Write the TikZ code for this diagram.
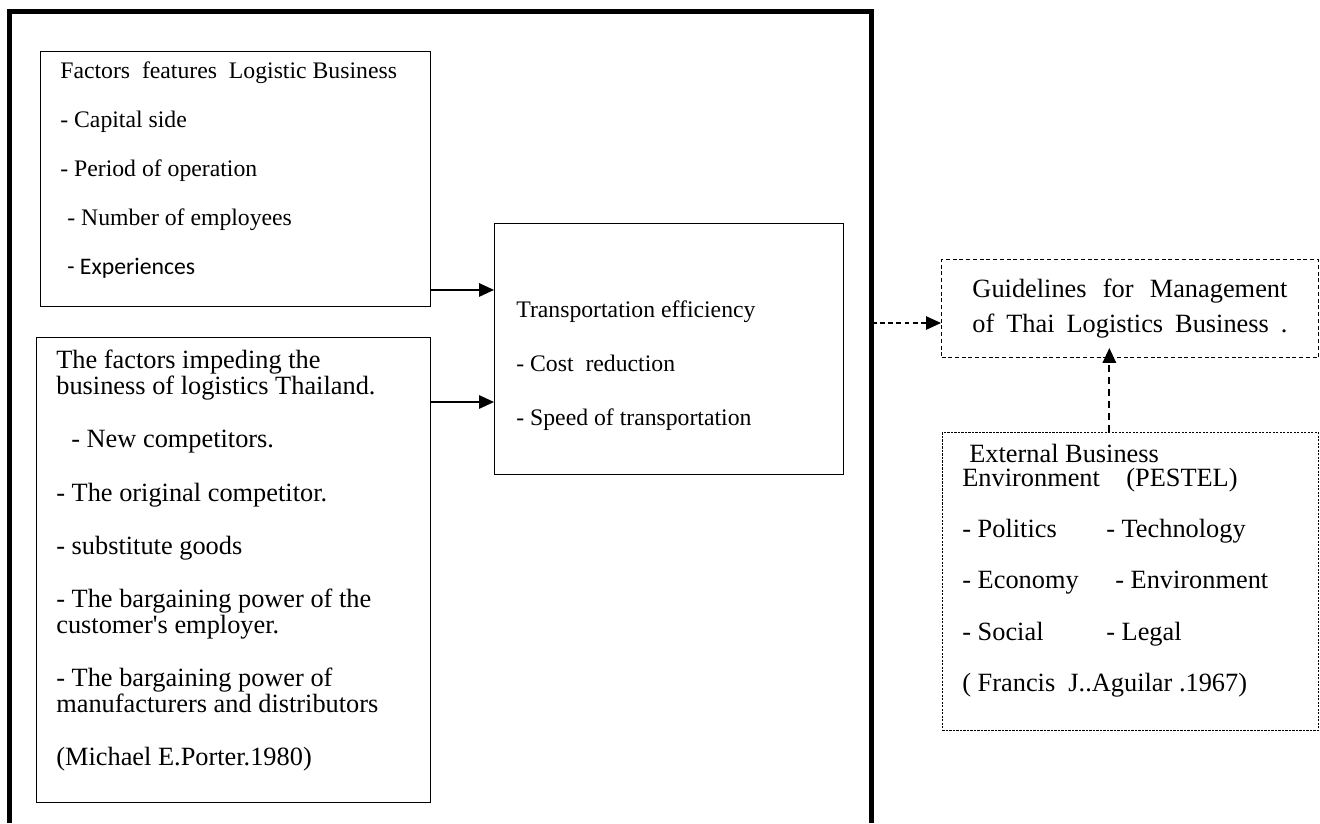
\documentclass[tikz,border=0pt]{standalone}
\usepackage{fontspec}
\setmainfont{Liberation Serif}
\newfontfamily\calibrifont{Carlito}
\usetikzlibrary{arrows.meta, positioning}
\tikzset{
	panel/.style={rectangle, draw=black, line width=0.02cm, anchor=north west, inner sep=0pt},
	dashpanel/.style={panel, dash pattern=on 0.08cm off 0.055cm},
	dotpanel/.style={panel, line width=0.016cm, dash pattern=on 0.045cm off 0.025cm},
	paneltext/.style={anchor=north west, inner sep=0pt, align=left},
	arrow/.style={-{Triangle[length=0.3cm, width=0.27cm]}, line width=0.03cm},
	dasharrow/.style={-{Triangle[length=0.3cm, width=0.27cm]}, line width=0.024cm, dash pattern=on 0.1cm off 0.065cm},
	longdasharrow/.style={-{Triangle[length=0.3cm, width=0.27cm]}, line width=0.035cm, dash pattern=on 0.14cm off 0.1cm},
}
\begin{document}
\begin{tikzpicture}[x=0.02cm, y=-0.02cm]
	\useasboundingbox (0,0) rectangle (1320,823);
	\draw[line width=0.1cm] (9.5,823) -- (9.5,11.5) -- (871.5,11.5) -- (871.5,823);
	\coordinate (frameR) at (871.5,323);
	\node[panel, minimum width=7.8cm, minimum height=5.1cm] (feat) at (40,51) {};
	\node[paneltext, font=\fontsize{13.5}{27.9}\selectfont, below right=0.216cm and 0.4cm of feat.north west] (feattext) {Factors\ \ features\ \ Logistic Business\\- Capital side\\- Period of operation\\\hspace*{0.14cm}- Number of employees\\\hspace*{0.14cm}{\calibrifont - Experiences}};
	\node[panel, minimum width=7.88cm, minimum height=9.3cm] (imped) at (36,337) {};
	\node[paneltext, font=\fontsize{15}{14.8}\selectfont, below right=0.26cm and 0.4cm of imped.north west] (impedtext) {The factors impeding the\\business of logistics Thailand.\\[15.4pt]
		\hspace*{0.3cm}- New competitors.\\[15.4pt]
		- The original competitor.\\[15.4pt]
		- substitute goods\\[15.4pt]
		- The bargaining power of the\\customer\textquotesingle s employer.\\[15.4pt]
		- The bargaining power of\\manufacturers and distributors\\[15.4pt]
		(Michael E.Porter.1980)};
	\node[panel, minimum width=6.98cm, minimum height=5.02cm] (trans) at (494,223) {};
	\node[paneltext, font=\fontsize{13.5}{30.7}\selectfont, below right=1.55cm and 0.44cm of trans.north west] (transtext) {Transportation efficiency\\- Cost\ \ reduction\\- Speed of transportation};
	\node[dashpanel, minimum width=7.54cm, minimum height=1.96cm, align=center, font=\fontsize{15}{19.9}\selectfont] (guide) at (941,259) {\makebox[6.3cm][s]{Guidelines for Management}\\\makebox[6.3cm][s]{of Thai Logistics Business .}};
	\node[dotpanel, minimum width=7.52cm, minimum height=5.96cm] (pestel) at (942,432) {};
	\node[paneltext, font=\fontsize{15}{13.7}\selectfont, below right=0.24cm and 0.4cm of pestel.north west] (pesteltext) {\hspace*{0.14cm}External Business\\Environment\ \ \ \ (PESTEL)\\[15.4pt]
		\makebox[2.88cm][l]{- Politics}- Technology\\[15.4pt]
		\makebox[3.06cm][l]{- Economy}- Environment\\[15.4pt]
		\makebox[2.88cm][l]{- Social}- Legal\\[15.4pt]
		(\ Francis\ \ J..Aguilar .1967)};
	\draw[arrow] ([yshift=0.34cm]feat.south east) -- ([yshift=0.34cm]feat.south east -| trans.west);
	\draw[arrow] ([yshift=-1.3cm]imped.north east) -- ([yshift=-1.3cm]imped.north east -| trans.west);
	\draw[dasharrow] (frameR) -- (frameR -| guide.west);
	\draw[longdasharrow, shorten >=-0.2cm] ([xshift=-0.42cm]pestel.north) -- ([xshift=-0.42cm]pestel.north |- guide.south);
\end{tikzpicture}
\end{document}
